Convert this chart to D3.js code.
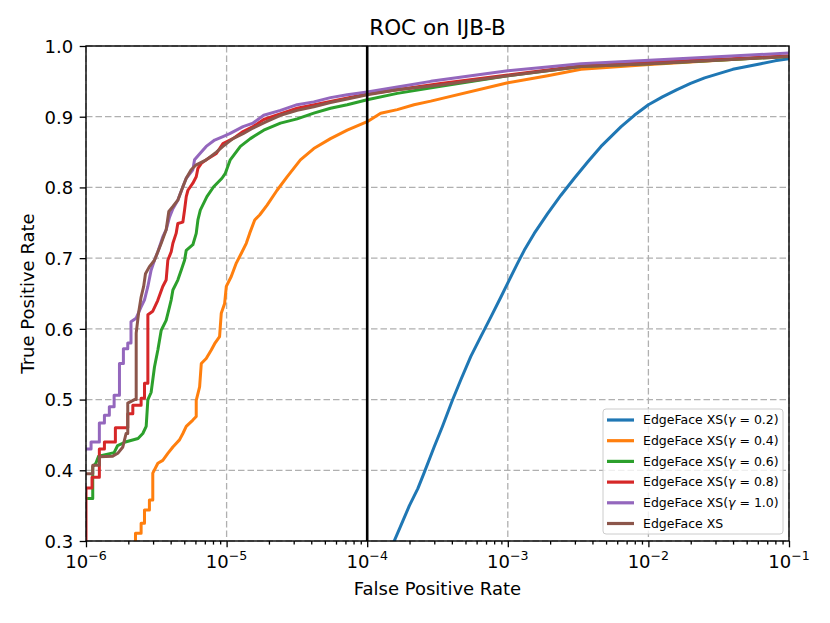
<!DOCTYPE html>
<html>
<head>
<meta charset="utf-8">
<script src="https://cdn.jsdelivr.net/npm/d3@7"></script>
<style>
  body { margin: 0; background: #fff; }
  text { font-family: "DejaVu Sans", sans-serif; fill: #000; }
</style>
</head>
<body>
<svg id="chart" width="830" height="623"></svg>
<script>
// ROC points, each [log10(FPR), TPR]
const rocG02 = [[-3.81,0.299],[-3.76,0.322],[-3.70,0.35],[-3.64,0.374],[-3.596,0.396],[-3.524,0.433],[-3.465,0.462],[-3.394,0.499],[-3.334,0.528],[-3.263,0.561],[-3.192,0.589],[-3.12,0.617],[-3.049,0.645],[-2.99,0.669],[-2.93,0.693],[-2.883,0.711],[-2.812,0.735],[-2.717,0.763],[-2.622,0.789],[-2.527,0.813],[-2.432,0.836],[-2.337,0.858],[-2.194,0.886],[-2.1,0.902],[-2.0,0.917],[-1.9,0.928],[-1.8,0.938],[-1.7,0.947],[-1.6,0.955],[-1.5,0.961],[-1.4,0.967],[-1.3,0.971],[-1.2,0.975],[-1.1,0.979],[-1.0,0.982]];

const rocG04 = [[-5.648,0.30],[-5.648,0.311],[-5.608,0.311],[-5.608,0.325],[-5.584,0.325],[-5.584,0.344],[-5.549,0.344],[-5.549,0.358],[-5.525,0.358],[-5.525,0.396],[-5.489,0.41],[-5.454,0.414],[-5.418,0.424],[-5.382,0.433],[-5.359,0.438],[-5.335,0.443],[-5.311,0.452],[-5.287,0.462],[-5.24,0.471],[-5.216,0.476],[-5.216,0.499],[-5.192,0.518],[-5.18,0.551],[-5.145,0.558],[-5.109,0.57],[-5.085,0.579],[-5.05,0.589],[-5.038,0.622],[-5.014,0.636],[-5.002,0.66],[-4.967,0.674],[-4.931,0.693],[-4.895,0.707],[-4.86,0.721],[-4.836,0.735],[-4.80,0.754],[-4.765,0.761],[-4.712,0.775],[-4.641,0.796],[-4.57,0.815],[-4.475,0.839],[-4.38,0.855],[-4.261,0.869],[-4.142,0.881],[-4.0,0.893],[-3.904,0.905],[-3.786,0.91],[-3.667,0.917],[-3.548,0.922],[-3.0,0.948],[-2.716,0.958],[-2.479,0.967],[-1.992,0.974],[-1.41,0.981],[-1.0,0.986]];

const rocG06 = [[-6,0.36],[-5.952,0.36],[-5.952,0.405],[-5.93,0.41],[-5.91,0.42],[-5.80,0.425],[-5.775,0.435],[-5.72,0.44],[-5.63,0.445],[-5.596,0.452],[-5.572,0.462],[-5.56,0.50],[-5.537,0.51],[-5.513,0.546],[-5.489,0.57],[-5.465,0.598],[-5.43,0.612],[-5.406,0.631],[-5.394,0.641],[-5.382,0.655],[-5.347,0.669],[-5.323,0.683],[-5.299,0.697],[-5.287,0.711],[-5.24,0.719],[-5.216,0.735],[-5.204,0.754],[-5.187,0.768],[-5.14,0.787],[-5.092,0.801],[-5.033,0.813],[-5.009,0.82],[-4.974,0.839],[-4.902,0.858],[-4.831,0.869],[-4.736,0.881],[-4.617,0.891],[-4.498,0.897],[-4.38,0.905],[-4.261,0.912],[-4.142,0.917],[-4.0,0.924],[-3.786,0.933],[-3.477,0.943],[-3.0,0.958],[-2.479,0.971],[-1.992,0.975],[-1.41,0.981],[-1.0,0.985]];

const rocG08 = [[-6,0.30],[-6,0.375],[-5.957,0.375],[-5.957,0.39],[-5.905,0.39],[-5.905,0.43],[-5.869,0.43],[-5.869,0.44],[-5.791,0.44],[-5.791,0.46],[-5.703,0.46],[-5.703,0.48],[-5.667,0.48],[-5.667,0.492],[-5.608,0.492],[-5.608,0.502],[-5.584,0.502],[-5.584,0.523],[-5.56,0.523],[-5.56,0.62],[-5.525,0.625],[-5.49,0.64],[-5.454,0.66],[-5.43,0.669],[-5.418,0.697],[-5.394,0.709],[-5.382,0.721],[-5.359,0.735],[-5.347,0.749],[-5.311,0.751],[-5.299,0.768],[-5.287,0.787],[-5.275,0.796],[-5.24,0.806],[-5.216,0.815],[-5.204,0.827],[-5.18,0.834],[-5.145,0.839],[-5.073,0.848],[-5.026,0.862],[-4.955,0.869],[-4.883,0.879],[-4.812,0.886],[-4.736,0.896],[-4.498,0.912],[-4.0,0.932],[-3.477,0.947],[-3.0,0.959],[-2.479,0.972],[-1.992,0.977],[-1.41,0.982],[-1.0,0.986]];

const rocG10 = [[-6,0.43],[-5.964,0.43],[-5.964,0.44],[-5.905,0.44],[-5.905,0.467],[-5.869,0.467],[-5.869,0.478],[-5.834,0.478],[-5.834,0.49],[-5.80,0.49],[-5.80,0.506],[-5.762,0.506],[-5.762,0.551],[-5.734,0.551],[-5.734,0.572],[-5.703,0.572],[-5.703,0.58],[-5.68,0.58],[-5.68,0.61],[-5.644,0.615],[-5.608,0.631],[-5.584,0.641],[-5.56,0.66],[-5.537,0.683],[-5.513,0.697],[-5.489,0.709],[-5.454,0.73],[-5.43,0.74],[-5.406,0.758],[-5.382,0.77],[-5.347,0.782],[-5.311,0.801],[-5.287,0.813],[-5.24,0.825],[-5.228,0.839],[-5.18,0.85],[-5.145,0.858],[-5.085,0.867],[-5.026,0.872],[-4.978,0.876],[-4.883,0.886],[-4.812,0.891],[-4.736,0.902],[-4.617,0.909],[-4.498,0.917],[-4.38,0.921],[-4.261,0.927],[-4.142,0.931],[-4.0,0.935],[-3.786,0.942],[-3.548,0.95],[-3.0,0.965],[-2.479,0.975],[-1.992,0.98],[-1.41,0.986],[-1.0,0.99]];

const rocXS = [[-6,0.395],[-5.952,0.395],[-5.952,0.407],[-5.905,0.407],[-5.905,0.419],[-5.81,0.42],[-5.774,0.424],[-5.738,0.433],[-5.715,0.452],[-5.703,0.452],[-5.703,0.495],[-5.655,0.50],[-5.643,0.50],[-5.643,0.594],[-5.625,0.624],[-5.608,0.645],[-5.59,0.66],[-5.577,0.678],[-5.549,0.688],[-5.513,0.697],[-5.489,0.709],[-5.465,0.721],[-5.43,0.74],[-5.411,0.766],[-5.382,0.773],[-5.347,0.782],[-5.311,0.801],[-5.287,0.813],[-5.252,0.825],[-5.216,0.832],[-5.145,0.839],[-5.073,0.85],[-5.026,0.858],[-4.955,0.869],[-4.883,0.876],[-4.812,0.884],[-4.717,0.893],[-4.617,0.902],[-4.498,0.909],[-4.38,0.914],[-4.261,0.92],[-4.142,0.925],[-4.0,0.931],[-3.786,0.938],[-3.477,0.945],[-3.0,0.958],[-2.479,0.971],[-1.992,0.975],[-1.41,0.981],[-1.0,0.985]];

const seriesData = [rocG02, rocG04, rocG06, rocG08, rocG10, rocXS];
const seriesGamma = ["0.2", "0.4", "0.6", "0.8", "1.0", null];
const seriesColors = ["#1f77b4", "#ff7f0e", "#2ca02c", "#d62728", "#9467bd", "#8c564b"];

const xTickExp = [-6, -5, -4, -3, -2, -1];
const yTickVals = [0.3, 0.4, 0.5, 0.6, 0.7, 0.8, 0.9, 1.0];
const thresholdFpr = 1e-4;

const W = 830, H = 623;
const M = { top: 46, right: 41, bottom: 82, left: 86 };

const svg = d3.select("#chart");

const x = d3.scaleLog().domain([1e-6, 1e-1]).range([M.left, W - M.right]);
const y = d3.scaleLinear().domain([0.3, 1.0]).range([H - M.bottom, M.top]);

const xMajor = xTickExp.map(e => Math.pow(10, e));
const xMinor = [];
xTickExp.slice(0, -1).forEach(e => {
    for (let m = 2; m <= 9; m++) xMinor.push(m * Math.pow(10, e));
});

// grid
const grid = svg.append("g")
    .attr("stroke", "#b0b0b0")
    .attr("stroke-width", 1.3)
    .attr("stroke-dasharray", "6.5,3");

grid.selectAll(".gx").data(xMajor).enter().append("line")
    .attr("x1", d => x(d)).attr("x2", d => x(d))
    .attr("y1", M.top).attr("y2", H - M.bottom);

grid.selectAll(".gy").data(yTickVals).enter().append("line")
    .attr("x1", M.left).attr("x2", W - M.right)
    .attr("y1", d => y(d)).attr("y2", d => y(d));

// curves
svg.append("clipPath").attr("id", "plotclip")
    .append("rect")
    .attr("x", M.left).attr("y", M.top)
    .attr("width", W - M.left - M.right)
    .attr("height", H - M.top - M.bottom);

const line = d3.line()
    .x(d => x(Math.pow(10, d[0])))
    .y(d => y(d[1]));

svg.append("g")
    .attr("clip-path", "url(#plotclip)")
    .selectAll("path")
    .data(seriesData)
    .enter().append("path")
    .attr("d", d => line(d))
    .attr("fill", "none")
    .attr("stroke", (d, i) => seriesColors[i])
    .attr("stroke-width", 3)
    .attr("stroke-linejoin", "round");

// vertical marker at FPR = 1e-4
svg.append("line")
    .attr("x1", x(thresholdFpr)).attr("x2", x(thresholdFpr))
    .attr("y1", M.top).attr("y2", H - M.bottom)
    .attr("stroke", "#000")
    .attr("stroke-width", 2.6);

// axes
const xAxis = svg.append("g")
    .attr("transform", "translate(0," + (H - M.bottom) + ")")
    .call(d3.axisBottom(x).tickValues(xMajor).tickSize(6.3).tickFormat(""));
const xAxisMinor = svg.append("g")
    .attr("transform", "translate(0," + (H - M.bottom) + ")")
    .call(d3.axisBottom(x).tickValues(xMinor).tickSize(3.6).tickFormat(""));
xAxisMinor.select(".domain").remove();

const yAxis = svg.append("g")
    .attr("transform", "translate(" + M.left + ",0)")
    .call(d3.axisLeft(y).tickValues(yTickVals).tickSize(6.3).tickPadding(6.5).tickFormat(d3.format(".1f")));

svg.selectAll(".tick line").attr("stroke", "#000").attr("stroke-width", 1.3);
svg.selectAll(".domain").remove();

yAxis.selectAll("text")
    .style("font-family", "DejaVu Sans")
    .attr("font-size", 18)
    .attr("dy", "0.35em")
    .attr("fill", "#000");

// x tick labels with superscripts
const xl = svg.append("g").selectAll("text")
    .data(xTickExp)
    .enter().append("text")
    .attr("x", d => x(Math.pow(10, d)))
    .attr("y", 568)
    .attr("text-anchor", "middle")
    .attr("font-size", 18);
xl.append("tspan").text("10");
xl.append("tspan")
    .attr("font-size", 12.6)
    .attr("dy", -8)
    .text(d => "\u2212" + Math.abs(d));

// spines
svg.append("rect")
    .attr("x", M.left).attr("y", M.top)
    .attr("width", W - M.left - M.right)
    .attr("height", H - M.top - M.bottom)
    .attr("fill", "none")
    .attr("stroke", "#000")
    .attr("stroke-width", 1.4);

// titles
svg.append("text")
    .attr("x", (M.left + W - M.right) / 2)
    .attr("y", 35)
    .attr("text-anchor", "middle")
    .attr("font-size", 21.5)
    .text("ROC on IJB-B");

svg.append("text")
    .attr("x", (M.left + W - M.right) / 2)
    .attr("y", 595)
    .attr("text-anchor", "middle")
    .attr("font-size", 18)
    .text("False Positive Rate");

svg.append("text")
    .attr("transform", "translate(34," + ((M.top + H - M.bottom) / 2) + ") rotate(-90)")
    .attr("text-anchor", "middle")
    .attr("font-size", 18)
    .text("True Positive Rate");

// legend
const lg = svg.append("g").attr("transform", "translate(603,409)");
lg.append("rect")
    .attr("width", 180).attr("height", 125)
    .attr("rx", 3).attr("ry", 3)
    .attr("fill", "#fff").attr("fill-opacity", 0.8)
    .attr("stroke", "#cccccc").attr("stroke-width", 1);

const rows = lg.selectAll(".row")
    .data(seriesGamma)
    .enter().append("g")
    .attr("transform", (d, i) => "translate(0," + (11 + i * 20.7) + ")");

rows.append("line")
    .attr("x1", 4).attr("x2", 31)
    .attr("stroke", (d, i) => seriesColors[i])
    .attr("stroke-width", 3.2);

const lt = rows.append("text")
    .attr("x", 40)
    .attr("dy", "0.35em")
    .attr("font-size", 12.5);
lt.append("tspan").text(d => d === null ? "EdgeFace XS" : "EdgeFace XS(");
lt.filter(d => d !== null).append("tspan").attr("font-style", "italic").text("\u03b3");
lt.filter(d => d !== null).append("tspan").text(d => " = " + d + ")");
</script>
</body>
</html>
